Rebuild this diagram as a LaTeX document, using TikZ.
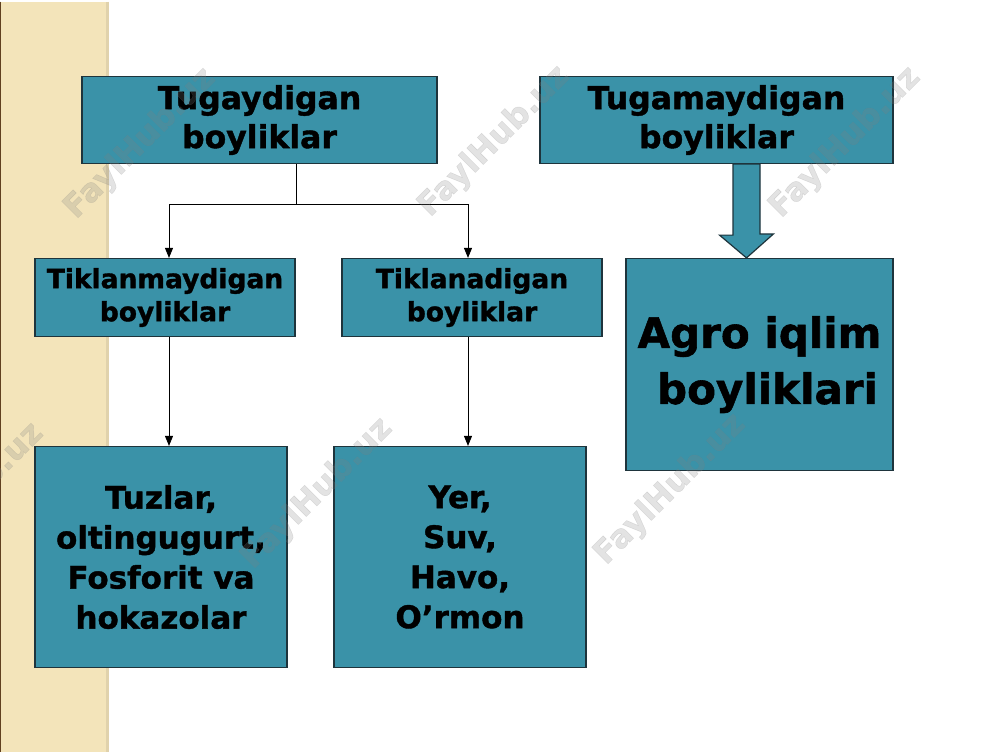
\documentclass[tikz,border=0pt]{standalone}
\usepackage{fontspec}
\setmainfont[BoldFeatures={FakeBold=1.3}]{DejaVu Sans}
\usetikzlibrary{positioning, arrows.meta}

\definecolor{boxteal}{RGB}{58,146,168}
\definecolor{boxedge}{RGB}{30,52,60}
\definecolor{stripbeige}{RGB}{243,228,186}
\definecolor{stripedge}{RGB}{224,210,172}

\begin{document}
\begin{tikzpicture}[x=100pt, y=-100pt]
    % Define styles
    \tikzset{
        resource/.style={draw=boxedge, line width=1.2pt, fill=boxteal, align=center, inner sep=0pt},
        link/.style={draw=black, line width=0.9pt},
        linkarrow/.style={link, -{Triangle[width=8pt, length=10pt]}},
        fatarrow/.style={draw=boxedge, line width=1.2pt, fill=boxteal, line join=miter},
        watermark/.style={rotate=45, text=gray, opacity=0.22, font=\bfseries\fontsize{32}{32}\selectfont}
    }

    % Page and left strip
    \fill[white] (0,0) rectangle (10,7.5);
    \fill[stripbeige] (0,0) rectangle (1.08,7.5);
    \draw[stripedge, line width=3pt] (1.075,0) -- (1.075,7.5);
    \draw[brown!50!black, line width=1pt] (0.005,0) -- (0.005,7.5);
    \useasboundingbox (0,0) rectangle (10,7.5);

    % Define nodes
    \node[resource, minimum width=355pt, minimum height=87pt, font=\bfseries\fontsize{31.5}{39}\selectfont] (Tugaydigan) at (2.595, 1.185) {Tugaydigan\\boyliklar};
    \node[resource, minimum width=353pt, minimum height=87pt, font=\bfseries\fontsize{31.5}{39}\selectfont] (Tugamaydigan) at (7.165, 1.185) {Tugamaydigan\\boyliklar};
    \node[resource, minimum width=260pt, minimum height=78pt, font=\bfseries\fontsize{26.5}{33}\selectfont] (Tiklanmaydigan) at (1.65, 2.96) {Tiklanmaydigan\\boyliklar};
    \node[resource, minimum width=260pt, minimum height=78pt, font=\bfseries\fontsize{26.5}{33}\selectfont] (Tiklanadigan) at (4.72, 2.96) {Tiklanadigan\\boyliklar};
    \node[resource, minimum width=267pt, minimum height=212pt, font=\bfseries\fontsize{42}{56}\selectfont] (Agro) at (7.595, 3.63) {Agro iqlim\\\hspace*{16pt}boyliklari};
    \node[resource, minimum width=252pt, minimum height=221pt, font=\bfseries\fontsize{31}{40}\selectfont] (Tuzlar) at (1.61, 5.555) {Tuzlar,\\oltingugurt,\\Fosforit va\\hokazolar};
    \node[resource, minimum width=252pt, minimum height=221pt, font=\bfseries\fontsize{31}{40}\selectfont] (Yer) at (4.60, 5.555) {Yer,\\Suv,\\Havo,\\O’rmon};

    % Draw connectors
    \coordinate (Split) at ([xshift=36.5pt]Tugaydigan.south);
    \coordinate (LeftDrop) at ([xshift=4pt]Tiklanmaydigan.south);
    \coordinate (RightDrop) at ([xshift=-4pt]Tiklanadigan.south);
    \draw[link] (Split) -- ++(0pt,-40pt) coordinate (Branch);
    \draw[linkarrow] (Branch) -| ([xshift=4pt]Tiklanmaydigan.north);
    \draw[linkarrow] (Branch) -| ([xshift=-4pt]Tiklanadigan.north);
    \draw[linkarrow] (LeftDrop) -- (LeftDrop |- Tuzlar.north);
    \draw[linkarrow] (RightDrop) -- (RightDrop |- Yer.north);

    % Block arrow into Agro
    \coordinate (FatTop) at ([xshift=30pt]Tugamaydigan.south);
    \draw[fatarrow] ([xshift=-13.5pt]FatTop) -- ++(0pt,-71pt) -- ++(-13.5pt,0pt)
        -- (FatTop |- Agro.north) -- ++(27pt,24pt) -- ++(-13.5pt,0pt)
        -- ([xshift=13.5pt]FatTop) -- cycle;

    % Watermarks
    \node[watermark] (wmA) at (1.40, 1.42) {FaylHub.uz};
    \node[watermark] (wmB) at (4.94, 1.40) {FaylHub.uz};
    \node[watermark] (wmC) at (8.45, 1.41) {FaylHub.uz};
    \node[watermark] (wmD) at (-0.32, 4.97) {FaylHub.uz};
    \node[watermark] (wmE) at (3.17, 4.92) {FaylHub.uz};
    \node[watermark] (wmF) at (6.70, 4.88) {FaylHub.uz};
\end{tikzpicture}
\end{document}
